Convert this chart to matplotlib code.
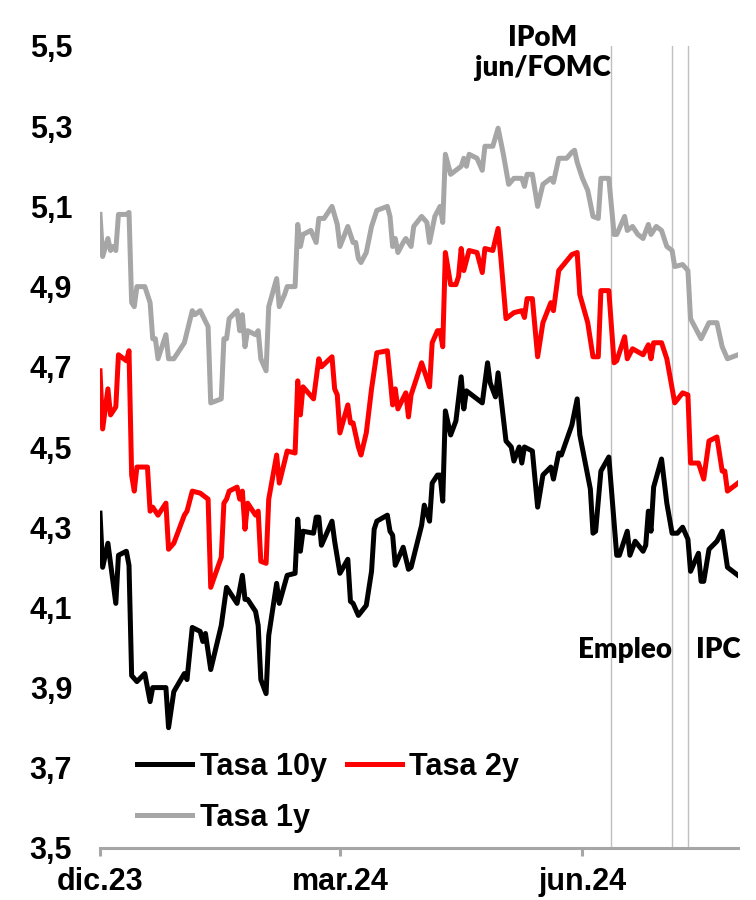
import numpy as np
import pandas as pd
import matplotlib
matplotlib.use("Agg")
import matplotlib.pyplot as plt
import matplotlib.dates as mdates
from matplotlib.ticker import FuncFormatter

# dias contados desde el 1-dic-2023
inicio = pd.Timestamp("2023-12-01")

dias_10y = [0, 1, 3, 6, 7, 10, 11, 12, 14, 17, 19, 20, 25, 26, 28, 32, 33, 35, 38, 39, 40, 42,
            46, 48, 52, 54, 55, 56, 59, 60, 61, 63, 64, 67, 68, 71, 74, 75, 76, 77, 81, 82, 83,
            84, 88, 89, 91, 94, 95, 96, 98, 101, 103, 104, 105, 109, 110, 111, 112, 115, 117,
            118, 122, 123, 125, 126, 128, 129, 130, 131, 133, 135, 137, 138, 139, 142, 145, 147,
            148, 150, 151, 154, 156, 157, 159, 160, 161, 164, 166, 168, 171, 172, 174, 175, 179,
            181, 182, 186, 187, 188, 190, 193, 196, 197, 200, 201, 203, 206, 207, 208, 209, 210,
            213, 215, 217, 219, 221, 223, 224, 227, 228, 229, 231, 234, 236, 238, 242]
tasa_10y = [4.335, 4.20, 4.26, 4.11, 4.23, 4.24, 4.205, 3.93, 3.915, 3.935, 3.865, 3.90, 3.90,
            3.80, 3.89, 3.935, 3.92, 4.05, 4.04, 4.015, 4.035, 3.945, 4.055, 4.15, 4.11, 4.18,
            4.12, 4.12, 4.09, 4.055, 3.92, 3.885, 4.03, 4.16, 4.11, 4.18, 4.185, 4.32, 4.24, 4.29,
            4.285, 4.325, 4.325, 4.255, 4.315, 4.265, 4.185, 4.22, 4.115, 4.11, 4.08, 4.105,
            4.19, 4.295, 4.315, 4.33, 4.29, 4.28, 4.205, 4.25, 4.195, 4.20, 4.305, 4.355, 4.315,
            4.41, 4.43, 4.43, 4.365, 4.59, 4.53, 4.565, 4.675, 4.595, 4.64, 4.625, 4.61, 4.71,
            4.66, 4.625, 4.685, 4.515, 4.50, 4.465, 4.50, 4.46, 4.50, 4.49, 4.35, 4.43, 4.45,
            4.42, 4.485, 4.48, 4.555, 4.62, 4.53, 4.395, 4.285, 4.29, 4.44, 4.475, 4.23, 4.23,
            4.29, 4.23, 4.265, 4.24, 4.255, 4.34, 4.29, 4.40, 4.47, 4.36, 4.285, 4.285, 4.30,
            4.27, 4.19, 4.235, 4.165, 4.165, 4.245, 4.265, 4.29, 4.20, 4.18]

dias_2y = [0, 1, 3, 4, 6, 7, 10, 11, 12, 13, 14, 18, 19, 20, 22, 25, 26, 28, 32, 33, 35, 38, 41,
           42, 46, 47, 48, 49, 52, 53, 54, 55, 56, 58, 59, 60, 61, 63, 64, 67, 68, 71, 74, 75,
           76, 77, 81, 83, 84, 88, 89, 90, 91, 94, 95, 96, 98, 99, 101, 103, 105, 109, 110, 111,
           112, 113, 116, 117, 118, 122, 125, 126, 128, 129, 130, 131, 133, 135, 136, 137, 138,
           140, 143, 145, 146, 149, 151, 152, 154, 157, 160, 161, 162, 164, 166, 168, 171, 172,
           174, 179, 181, 182, 185, 187, 189, 190, 193, 195, 196, 199, 200, 202, 206, 208, 209,
           210, 213, 215, 218, 221, 223, 224, 227, 229, 231, 234, 236, 237, 238, 242]
tasa_2y = [4.69, 4.545, 4.645, 4.58, 4.60, 4.73, 4.715, 4.74, 4.43, 4.39, 4.45, 4.45, 4.34,
           4.35, 4.33, 4.36, 4.245, 4.26, 4.33, 4.34, 4.39, 4.385, 4.37, 4.15, 4.225, 4.36,
           4.37, 4.39, 4.40, 4.37, 4.39, 4.295, 4.36, 4.34, 4.33, 4.34, 4.215, 4.21, 4.37,
           4.48, 4.41, 4.49, 4.485, 4.665, 4.58, 4.65, 4.62, 4.72, 4.70, 4.725, 4.645, 4.63,
           4.535, 4.605, 4.56, 4.56, 4.50, 4.48, 4.535, 4.645, 4.735, 4.74, 4.675, 4.605,
           4.645, 4.595, 4.635, 4.575, 4.63, 4.71, 4.65, 4.76, 4.79, 4.79, 4.75, 4.985, 4.905,
           4.905, 4.925, 4.995, 4.94, 4.99, 4.985, 4.935, 4.995, 4.99, 5.045, 4.975, 4.82,
           4.835, 4.84, 4.823, 4.87, 4.87, 4.725, 4.81, 4.86, 4.84, 4.94, 4.98, 4.985, 4.88,
           4.81, 4.725, 4.725, 4.89, 4.89, 4.71, 4.715, 4.775, 4.72, 4.745, 4.73, 4.755, 4.72,
           4.76, 4.76, 4.72, 4.61, 4.635, 4.63, 4.46, 4.46, 4.42, 4.515, 4.525, 4.44, 4.44,
           4.39, 4.41]

dias_1y = [0, 1, 3, 4, 5, 6, 7, 10, 11, 12, 13, 14, 17, 19, 20, 21, 22, 25, 26, 28, 32, 35, 36,
           38, 41, 42, 46, 47, 48, 49, 52, 53, 54, 55, 56, 59, 60, 61, 63, 64, 67, 68, 70, 71,
           74, 75, 76, 77, 80, 82, 83, 85, 88, 90, 91, 94, 96, 97, 98, 99, 101, 103, 105, 109,
           110, 111, 112, 113, 115, 116, 118, 119, 122, 124, 125, 127, 129, 130, 131, 133, 135,
           137, 138, 139, 140, 143, 145, 146, 149, 151, 153, 155, 157, 160, 161, 162, 164, 166,
           168, 171, 172, 174, 177, 179, 180, 181, 183, 185, 187, 189, 190, 193, 195, 196, 199,
           200, 202, 204, 206, 208, 209, 211, 213, 215, 217, 218, 221, 223, 224, 228, 231, 234,
           236, 238, 242]
tasa_1y = [5.08, 4.975, 5.02, 4.99, 5.00, 4.99, 5.08, 5.08, 5.085, 4.86, 4.85, 4.90, 4.90,
           4.86, 4.77, 4.77, 4.72, 4.78, 4.72, 4.72, 4.76, 4.84, 4.83, 4.84, 4.80, 4.61, 4.62,
           4.77, 4.77, 4.82, 4.84, 4.79, 4.83, 4.75, 4.79, 4.78, 4.79, 4.72, 4.69, 4.85, 4.92,
           4.85, 4.88, 4.90, 4.90, 5.055, 5.00, 5.03, 5.04, 5.01, 5.07, 5.07, 5.10, 5.055, 5.00,
           5.05, 5.01, 5.01, 4.97, 4.96, 4.985, 5.05, 5.09, 5.10, 5.075, 5.00, 5.02, 4.985,
           5.01, 5.02, 5.00, 5.05, 5.075, 5.06, 5.01, 5.075, 5.10, 5.06, 5.23, 5.18, 5.19, 5.20,
           5.22, 5.20, 5.23, 5.22, 5.19, 5.25, 5.25, 5.295, 5.23, 5.155, 5.17, 5.17, 5.15, 5.18,
           5.18, 5.10, 5.155, 5.17, 5.16, 5.22, 5.22, 5.235, 5.24, 5.21, 5.17, 5.14, 5.075,
           5.07, 5.17, 5.17, 5.03, 5.03, 5.075, 5.04, 5.05, 5.03, 5.02, 5.055, 5.03, 5.05, 5.04,
           5.00, 4.99, 4.95, 4.955, 4.94, 4.82, 4.77, 4.81, 4.81, 4.75, 4.72, 4.73]

eventos = ["2024-06-12", "2024-07-05", "2024-07-11"]
ticks_x = ["2023-12-01", "2024-03-01", "2024-06-01"]
etiquetas_x = ["dic.23", "mar.24", "jun.24"]
ticks_y = [3.5, 3.7, 3.9, 4.1, 4.3, 4.5, 4.7, 4.9, 5.1, 5.3, 5.5]


def fechas(dias):
    return inicio + pd.to_timedelta(dias, unit="D")


plt.rcParams["font.family"] = ["Liberation Sans", "DejaVu Sans"]
plt.rcParams["font.weight"] = "bold"

fig = plt.figure(figsize=(7.56, 9.0), dpi=100)
ax = fig.add_axes([100 / 756, 52 / 900, 638 / 756, 802 / 900])

gris_eje = "#a6a6a6"
for ev in eventos:
    ax.axvline(pd.Timestamp(ev), color="#bfbfbf", lw=1.0, zorder=1)

l10, = ax.plot(fechas(dias_10y), tasa_10y, color="black", lw=3.6, label="Tasa 10y", zorder=3)
l1, = ax.plot(fechas(dias_1y), tasa_1y, color="#a6a6a6", lw=3.6, label="Tasa 1y", zorder=3)
l2, = ax.plot(fechas(dias_2y), tasa_2y, color="#ff0000", lw=3.6, label="Tasa 2y", zorder=3)

ax.set_xlim(inicio, inicio + pd.Timedelta(days=242))
ax.set_ylim(3.5, 5.5)
ax.set_yticks(ticks_y)
ax.yaxis.set_major_formatter(FuncFormatter(lambda v, p: f"{v:.1f}".replace(".", ",")))
ax.set_xticks([pd.Timestamp(t) for t in ticks_x])
ax.set_xticklabels(etiquetas_x)

for s in ["top", "right", "left"]:
    ax.spines[s].set_visible(False)
ax.spines["bottom"].set_color(gris_eje)
ax.spines["bottom"].set_linewidth(2.2)
ax.tick_params(axis="y", length=0, pad=20, labelsize=22)
ax.tick_params(axis="x", length=6, width=2.2, color=gris_eje, pad=8, labelsize=22)

ax.legend(handles=[l10, l1, l2], ncol=2, loc="upper left", bbox_to_anchor=(0.058, 0.12),
          frameon=False, fontsize=22, handlelength=1.8, handletextpad=0.25,
          columnspacing=0.65, labelspacing=0.7, borderpad=0, borderaxespad=0)

fuente_nota = dict(family=["Lato", "DejaVu Sans"], fontweight="heavy", fontsize=20)
ax.text(pd.Timestamp("2024-05-17"), 5.483, "IPoM\njun/FOMC", ha="center", va="center",
        linespacing=1.2, **fuente_nota)
ax.text(pd.Timestamp("2024-07-05"), 3.995, "Empleo", ha="right", va="center", **fuente_nota)
ax.text(pd.Timestamp("2024-07-14"), 3.995, "IPC", ha="left", va="center", **fuente_nota)

fig.savefig("out.png", dpi=100)
